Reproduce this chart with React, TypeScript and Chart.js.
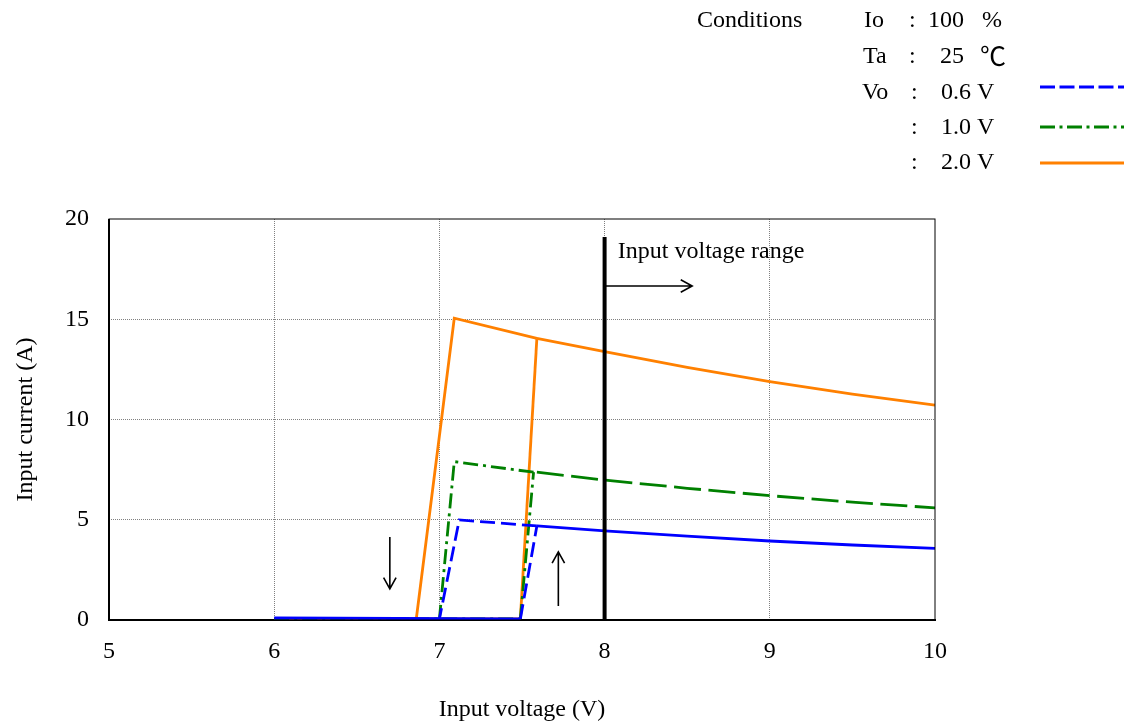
import React, { useEffect, useRef } from 'react';
import { Chart, registerables } from 'chart.js';

Chart.register(...registerables);

// Axis ticks
const xTickValues = [5, 6, 7, 8, 9, 10];
const yTickValues = [0, 5, 10, 15, 20];

// Off state while input rises (flat, near zero)
const blueLowX = [6, 7.49];
const blueLowY = [0.1, 0.05];
const greenLowX = [6, 7.49];
const greenLowY = [0.05, 0.05];
const orangeLowX = [6, 7.49];
const orangeLowY = [0.05, 0.05];

// Turn-on jump while input rises
const blueRiseX = [7.49, 7.59];
const blueRiseY = [0.05, 4.69];
const greenRiseX = [7.49, 7.57];
const greenRiseY = [0.05, 7.37];
const orangeRiseX = [7.49, 7.59];
const orangeRiseY = [0.05, 14.05];

// Operating curve
const highX = [7.59, 8, 8.5, 9, 9.5, 10];
const blueHighY = [4.69, 4.44, 4.18, 3.94, 3.74, 3.57];
const greenHighY = [7.37, 6.98, 6.57, 6.2, 5.88, 5.59];
const orangeHighY = [14.05, 13.38, 12.6, 11.89, 11.27, 10.72];

// Falling-input branch down to turn-off
const blueDownX = [7.59, 7.12, 7.0];
const blueDownY = [4.69, 4.99, 0.05];
const greenDownX = [7.57, 7.09, 7.0];
const greenDownY = [7.37, 7.9, 0.05];
const orangeDownX = [7.59, 7.09, 6.86];
const orangeDownY = [14.05, 15.05, 0.05];

// Input voltage range marker
const rangeLineX = [8, 8];
const rangeLineY = [0, 19.1];

// Arrows: [x1, y1, x2, y2] in data units
const arrowRange = [8, 16.66, 8.53, 16.66];
const arrowDown = [6.7, 4.14, 6.7, 1.55];
const arrowUp = [7.72, 0.7, 7.72, 3.4];
const rangeLabelPos = [8.08, 18.35];

const FONT = '"Liberation Serif", "Times New Roman", serif';
const BLUE = '#0000FF';
const GREEN = '#008000';
const ORANGE = '#FF8000';
const DASH = [15, 6];
const DASH_DOT = [15, 5, 3, 5];
const LW = 2.8;

function toPoints(xs: number[], ys: number[]) {
  return xs.map((x, i) => ({ x, y: ys[i] }));
}

function lineSet(label: string, xs: number[], ys: number[], color: string, dash: number[], order: number, width = LW) {
  return {
    label,
    data: toPoints(xs, ys),
    showLine: true,
    borderColor: color,
    borderWidth: width,
    borderDash: dash,
    pointRadius: 0,
    order,
  };
}

const overlayPlugin = {
  id: 'overlay',
  afterDraw(chart: any) {
    const { ctx, chartArea, scales } = chart;
    const xs = scales.x;
    const ys = scales.y;
    ctx.save();
    ctx.setLineDash([]);
    ctx.strokeStyle = '#000';
    ctx.lineWidth = 1;
    ctx.strokeRect(chartArea.left, chartArea.top, chartArea.right - chartArea.left, chartArea.bottom - chartArea.top);
    ctx.lineWidth = 2;
    ctx.beginPath();
    ctx.moveTo(chartArea.left, chartArea.top);
    ctx.lineTo(chartArea.left, chartArea.bottom);
    ctx.stroke();

    const drawArrow = (a: number[]) => {
      const x1 = xs.getPixelForValue(a[0]);
      const y1 = ys.getPixelForValue(a[1]);
      const x2 = xs.getPixelForValue(a[2]);
      const y2 = ys.getPixelForValue(a[3]);
      const ang = Math.atan2(y2 - y1, x2 - x1);
      const hl = 13;
      const spread = 0.5;
      ctx.strokeStyle = '#000';
      ctx.lineWidth = 1.6;
      ctx.beginPath();
      ctx.moveTo(x1, y1);
      ctx.lineTo(x2, y2);
      ctx.moveTo(x2 - hl * Math.cos(ang - spread), y2 - hl * Math.sin(ang - spread));
      ctx.lineTo(x2, y2);
      ctx.lineTo(x2 - hl * Math.cos(ang + spread), y2 - hl * Math.sin(ang + spread));
      ctx.stroke();
    };
    drawArrow(arrowRange);
    drawArrow(arrowDown);
    drawArrow(arrowUp);

    ctx.fillStyle = '#000';
    ctx.font = `24px ${FONT}`;
    ctx.textBaseline = 'middle';
    ctx.textAlign = 'left';
    ctx.fillText('Input voltage range', xs.getPixelForValue(rangeLabelPos[0]), ys.getPixelForValue(rangeLabelPos[1]));

    // conditions legend
    const rowsY = [21, 57, 93, 128, 163];
    ctx.fillText('Conditions', 697, rowsY[0]);
    ctx.fillText('Io', 864, rowsY[0]);
    ctx.fillText('Ta', 863, rowsY[1]);
    ctx.fillText('Vo', 862, rowsY[2]);
    ctx.fillText(':', 909, rowsY[0]);
    ctx.fillText(':', 909, rowsY[1]);
    ctx.fillText(':', 911, rowsY[2]);
    ctx.fillText(':', 911, rowsY[3]);
    ctx.fillText(':', 911, rowsY[4]);
    ctx.fillText('100', 928, rowsY[0]);
    ctx.fillText('%', 982, rowsY[0]);
    ctx.fillText('25', 940, rowsY[1]);
    ctx.fillText('0.6', 941, rowsY[2]);
    ctx.fillText('V', 977, rowsY[2]);
    ctx.fillText('1.0', 941, rowsY[3]);
    ctx.fillText('V', 977, rowsY[3]);
    ctx.fillText('2.0', 941, rowsY[4]);
    ctx.fillText('V', 977, rowsY[4]);
    ctx.font = '26px "Noto Sans CJK JP", serif';
    ctx.fillText('℃', 980, rowsY[1] - 1);

    const samples = [
      { y: 87, color: BLUE, dash: [15, 4.5] },
      { y: 127, color: GREEN, dash: [15, 4.5, 3, 4.5] },
      { y: 163, color: ORANGE, dash: [] as number[] },
    ];
    samples.forEach((s) => {
      ctx.strokeStyle = s.color;
      ctx.lineWidth = 3;
      ctx.setLineDash(s.dash);
      ctx.beginPath();
      ctx.moveTo(1040, s.y);
      ctx.lineTo(1124, s.y);
      ctx.stroke();
    });
    ctx.restore();
  },
};

export default function App() {
  const canvasRef = useRef<HTMLCanvasElement | null>(null);

  useEffect(() => {
    const canvas = canvasRef.current;
    if (!canvas) return;
    const gridColor = (ctx: any) => {
      const v = ctx.tick ? ctx.tick.value : null;
      if (v === null) return 'rgba(0,0,0,0)';
      const scale = ctx.scale;
      if (v === scale.min || v === scale.max) return 'rgba(0,0,0,0)';
      return '#808080';
    };
    const chart = new Chart(canvas, {
      type: 'scatter',
      data: {
        datasets: [
          lineSet('range', rangeLineX, rangeLineY, '#000', [], 0, 4),
          lineSet('Vo 0.6 V low', blueLowX, blueLowY, BLUE, [], 1),
          lineSet('Vo 0.6 V rise', blueRiseX, blueRiseY, BLUE, DASH, 1),
          lineSet('Vo 0.6 V high', highX, blueHighY, BLUE, [], 1),
          lineSet('Vo 0.6 V down', blueDownX, blueDownY, BLUE, DASH, 1),
          lineSet('Vo 1.0 V low', greenLowX, greenLowY, GREEN, DASH_DOT, 2),
          lineSet('Vo 1.0 V rise', greenRiseX, greenRiseY, GREEN, DASH_DOT, 2),
          lineSet('Vo 1.0 V high', highX, greenHighY, GREEN, [27, 7.5], 2),
          lineSet('Vo 1.0 V down', greenDownX, greenDownY, GREEN, DASH_DOT, 2),
          lineSet('Vo 2.0 V low', orangeLowX, orangeLowY, ORANGE, [], 3),
          lineSet('Vo 2.0 V rise', orangeRiseX, orangeRiseY, ORANGE, [], 3),
          lineSet('Vo 2.0 V high', highX, orangeHighY, ORANGE, [], 3),
          lineSet('Vo 2.0 V down', orangeDownX, orangeDownY, ORANGE, [], 3),
        ],
      },
      options: {
        animation: false,
        responsive: false,
        maintainAspectRatio: false,
        layout: { padding: { left: 0, right: 189, top: 219, bottom: 0 } },
        plugins: {
          legend: { display: false },
          tooltip: { enabled: false },
        },
        scales: {
          x: {
            type: 'linear',
            min: 5,
            max: 10,
            afterBuildTicks: (axis: any) => {
              axis.ticks = xTickValues.map((v) => ({ value: v }));
            },
            afterFit: (axis: any) => {
              axis.height = 105;
            },
            ticks: {
              color: '#000',
              font: { family: FONT, size: 24 },
              padding: 17,
              maxRotation: 0,
            },
            grid: { color: gridColor, lineWidth: 1, drawTicks: false },
            border: { display: true, color: '#000', width: 2, dash: [1, 1] },
            title: {
              display: true,
              text: 'Input voltage (V)',
              color: '#000',
              font: { family: FONT, size: 24 },
              padding: { top: 0, bottom: 1 },
            },
          },
          y: {
            type: 'linear',
            min: 0,
            max: 20,
            afterBuildTicks: (axis: any) => {
              axis.ticks = yTickValues.map((v) => ({ value: v }));
            },
            afterFit: (axis: any) => {
              axis.width = 109;
            },
            ticks: {
              color: '#000',
              font: { family: FONT, size: 24 },
              padding: 20,
            },
            grid: { color: gridColor, lineWidth: 1, drawTicks: false },
            border: { display: false, dash: [1, 1] },
            title: {
              display: true,
              text: 'Input current (A)',
              color: '#000',
              font: { family: FONT, size: 24 },
              padding: { top: 11, bottom: 0 },
            },
          },
        },
      },
      plugins: [overlayPlugin],
    });
    return () => chart.destroy();
  }, []);

  return (
    <div style={{ position: 'fixed', left: 0, top: 0, width: 1124, height: 725, background: '#fff' }}>
      <canvas ref={canvasRef} width={1124} height={725} style={{ width: 1124, height: 725 }} />
    </div>
  );
}
